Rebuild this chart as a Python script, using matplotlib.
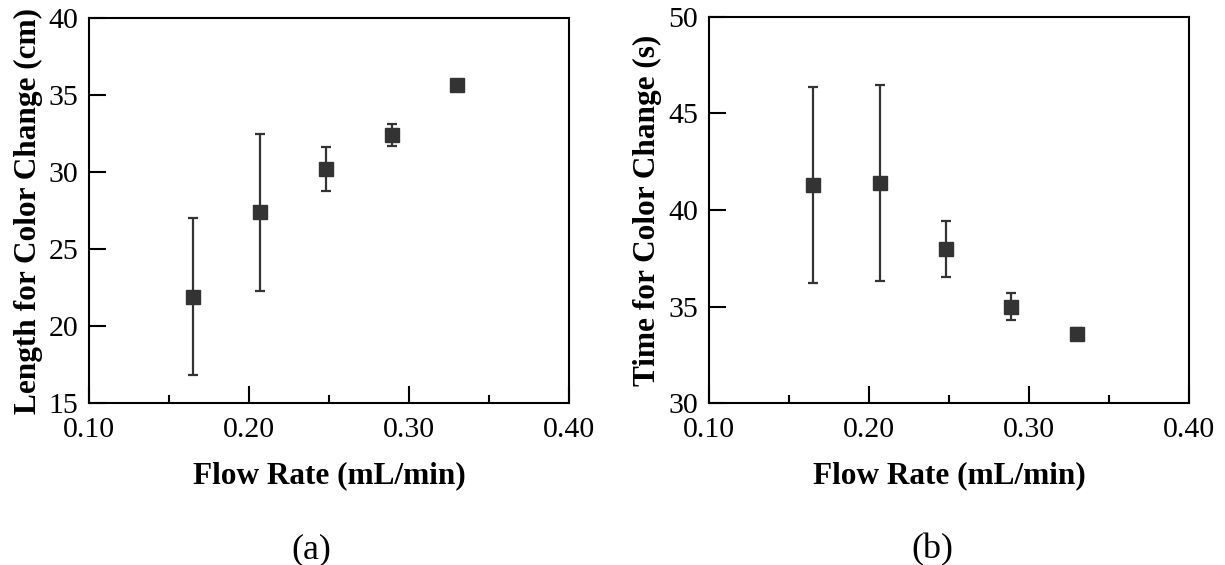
import matplotlib
matplotlib.use('Agg')
import matplotlib.pyplot as plt
from matplotlib.ticker import MultipleLocator

plt.rcParams['font.family'] = ['Liberation Serif', 'DejaVu Serif']

# Data
flow_rate = [0.165, 0.207, 0.248, 0.289, 0.330]
length_cm = [21.9, 27.4, 30.2, 32.4, 35.65]
length_err = [5.1, 5.1, 1.45, 0.73, 0.3]
time_s = [41.3, 41.4, 38.0, 35.0, 33.6]
time_err = [5.07, 5.09, 1.46, 0.7, 0.3]

xticks = [0.10, 0.20, 0.30, 0.40]
left_yticks = [15, 20, 25, 30, 35, 40]
right_yticks = [30, 35, 40, 45, 50]

fig = plt.figure(figsize=(12.25, 5.65), dpi=100)
ax1 = fig.add_axes([0.0729, 0.2867, 0.3918, 0.6814])
ax2 = fig.add_axes([0.5788, 0.2862, 0.3918, 0.6840])

col = '#333333'

def style(ax, yvals, yerr, yticks, ylabel):
    ax.errorbar(flow_rate, yvals, yerr=yerr, fmt='s', color=col,
                ecolor=col, markersize=10, elinewidth=1.6,
                capsize=3.8, capthick=1.6)
    ax.set_xlim(0.10, 0.40)
    ax.set_ylim(yticks[0], yticks[-1])
    ax.set_xticks(xticks)
    ax.set_xticklabels([f'{v:.2f}' for v in xticks])
    ax.xaxis.set_minor_locator(MultipleLocator(0.05))
    ax.set_yticks(yticks)
    ax.tick_params(which='major', direction='in', length=12, width=1.5,
                   labelsize=21.5, top=False, right=False)
    ax.tick_params(axis='x', pad=10)
    ax.tick_params(axis='y', pad=8)
    ax.tick_params(which='minor', direction='in', length=6, width=1.5,
                   top=False, right=False)
    for s in ax.spines.values():
        s.set_linewidth(1.5)
    ax.set_xlabel('Flow Rate (mL/min)', fontsize=22.5, fontweight='bold', labelpad=13)
    ax.set_ylabel(ylabel, fontsize=22.5, fontweight='bold', labelpad=4)

style(ax1, length_cm, length_err, left_yticks, 'Length for Color Change (cm)')
style(ax2, time_s, time_err, right_yticks, 'Time for Color Change (s)')

fig.text(0.2545, 0.0265, '(a)', fontsize=26, ha='center', va='center')
fig.text(0.761, 0.0265, '(b)', fontsize=26, ha='center', va='center')

fig.savefig('out.png', dpi=100)
